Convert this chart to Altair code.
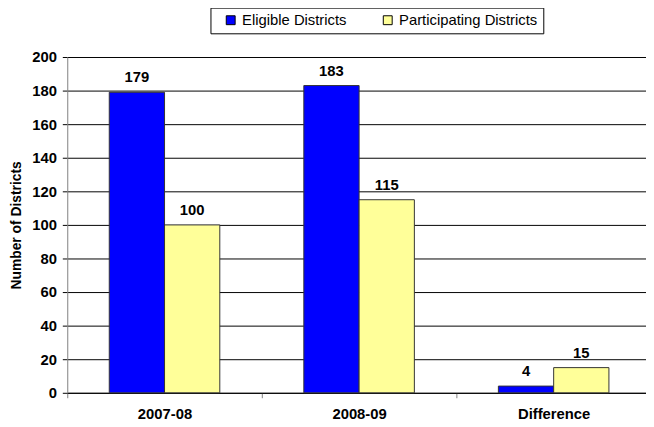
import altair as alt
import pandas as pd

categories = ["2007-08", "2008-09", "Difference"]
series = ["Eligible Districts", "Participating Districts"]
eligible = [179, 183, 4]
participating = [100, 115, 15]

rows = []
for c, e, p in zip(categories, eligible, participating):
    rows.append({"cat": c, "series": series[0], "value": e})
    rows.append({"cat": c, "series": series[1], "value": p})
df = pd.DataFrame(rows)

FONT = "Liberation Sans"
FS = 15

x = alt.X("cat:N", sort=categories, title=None,
          scale=alt.Scale(paddingInner=0, paddingOuter=0),
          axis=alt.Axis(labelAngle=0, labelFont=FONT, labelFontSize=FS, labelFontWeight="bold",
                        labelColor="black", domainColor="black", tickColor="#808080",
                        tickBand="extent", tickSize=5, labelPadding=9, grid=False))
xo = alt.XOffset("series:N", sort=series,
                 scale=alt.Scale(paddingInner=0, paddingOuter=0.76))
y = alt.Y("value:Q", title="Number of Districts",
          scale=alt.Scale(domain=[0, 200], nice=False),
          axis=alt.Axis(values=list(range(0, 201, 20)), labelFont=FONT, labelFontSize=FS,
                        labelFontWeight="bold", labelColor="black", domainColor="#808080",
                        tickColor="black", tickSize=5, labelPadding=6, grid=True,
                        gridColor="black", gridOpacity=1, titleFont=FONT, titleFontSize=14,
                        titleFontWeight="bold", titleColor="black", titlePadding=8))

color = alt.Color("series:N", sort=series,
                  scale=alt.Scale(domain=series, range=["#0000FF", "#FFFF99"]),
                  legend=alt.Legend(title=None, orient="none", legendX=145, legendY=-50,
                                    direction="horizontal", strokeColor="black", padding=5,
                                    symbolOffset=8, symbolType="square", symbolSize=81,
                                    symbolStrokeColor="black", symbolStrokeWidth=1,
                                    labelFont=FONT, labelFontSize=FS, labelColor="black",
                                    labelOffset=4, columnPadding=26, fillColor="white"))

base = alt.Chart(df)
bars = base.mark_bar(stroke="#333333", strokeWidth=1).encode(x=x, xOffset=xo, y=y, color=color)
labels = base.mark_text(dy=-10, baseline="alphabetic", font=FONT, fontSize=FS,
                        fontWeight="bold", color="black").encode(
    x=x, xOffset=xo, y=y, text="value:Q")

chart = (bars + labels).properties(
    width=591, height=340,
    autosize=alt.AutoSizeParams(type="none"),
    padding={"left": 60, "top": 47, "right": -5, "bottom": 32},
).configure_view(stroke=None)

chart.save("out.html", embed_options={"renderer": "svg", "actions": False})
